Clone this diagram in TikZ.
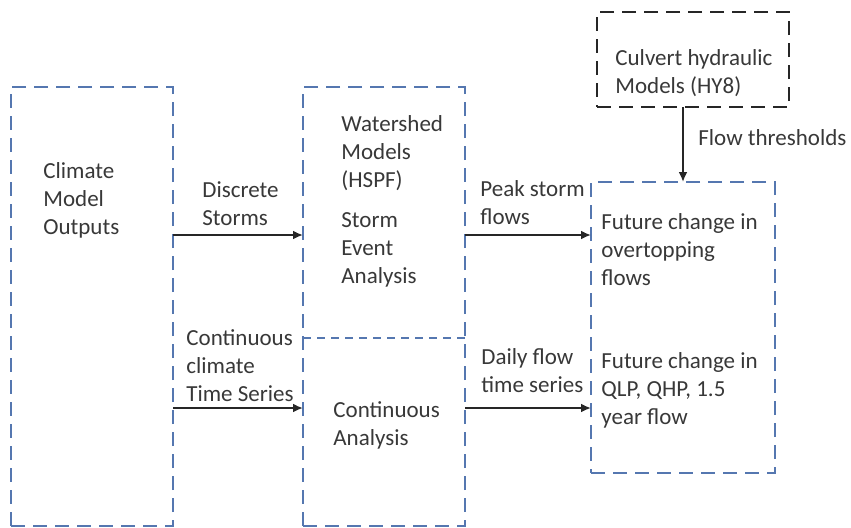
\documentclass[tikz,border=0pt]{standalone}
\usepackage{fontspec}
\setmainfont{Carlito}
\usepackage{xcolor}
\definecolor{cBlue}{HTML}{5577B0}
\definecolor{cInk}{HTML}{383838}
\definecolor{cDark}{HTML}{262626}
\usetikzlibrary{arrows.meta,calc}
\tikzset{
  box-blue/.style={draw=cBlue,line width=1pt,dash pattern=on 7pt off 4pt,
    inner sep=0pt,outer sep=0pt,anchor=north west},
  box-black/.style={draw=cDark,line width=1.3pt,dash pattern=on 7pt off 4pt,
    inner sep=0pt,outer sep=0pt,anchor=north west},
  divider/.style={draw=cBlue,line width=0.6pt,dash pattern=on 4pt off 3pt},
  txt/.style={align=left,anchor=west,inner sep=0pt,text=cInk,
    font=\fontsize{11.5}{14}\selectfont},
  arrow/.style={-{Latex[length=5pt,width=4.5pt]},line width=1pt,draw=cDark},
}

\begin{document}
\begin{tikzpicture}[x=0.5pt,y=-0.5pt]
  \useasboundingbox (0,0) rectangle (851,527);

  % boxes
  \node[box-blue,minimum width=81pt,minimum height=219.5pt] (clim) at (11,87) {};
  \node[box-blue,minimum width=81pt,minimum height=219.5pt] (shed) at (303,87) {};
  \node[box-blue,minimum width=92pt,minimum height=145.5pt] (fut) at (591,182) {};
  \node[box-black,minimum width=96pt,minimum height=47.5pt] (culv) at (597,12) {};

  % rows for the connectors
  \coordinate (row-storm) at (0,235);
  \coordinate (row-cont) at (0,408);
  \coordinate (split) at (0,338);
  \coordinate (thr) at (683,0);

  \draw[divider] (shed.west |- split) -- ([xshift=1pt]shed.east |- split);

  % texts inside the boxes
  \node[txt] (clim-t) at (43,200) {Climate\\Model\\Outputs};
  \node[txt] (shed-t) at (341,153) {Watershed\\Models\\(HSPF)};
  \node[txt] (event-t) at (341,250) {Storm\\Event\\Analysis};
  \node[txt] (cont-t) at (333,425) {Continuous\\Analysis};
  \node[txt] (over-t) at (601,250) {Future change in\\overtopping\\flows};
  \node[txt] (qlp-t) at (601,390) {Future change in\\QLP, QHP, 1.5\\year flow};
  \node[txt] (culv-t) at (615,73) {Culvert hydraulic\\Models (HY8)};

  % connectors
  \draw[arrow] (clim.east |- row-storm) -- (shed.west |- row-storm);
  \draw[arrow] (clim.east |- row-cont) -- (shed.west |- row-cont);
  \draw[arrow] (shed.east |- row-storm) -- (fut.west |- row-storm);
  \draw[arrow] (shed.east |- row-cont) -- (fut.west |- row-cont);
  \draw[arrow] (culv.south -| thr) -- (fut.north -| thr);

  % connector labels
  \node[txt] (storm-l) at (202,204) {Discrete\\Storms};
  \node[txt] (series-l) at (186,366) {Continuous\\climate\\Time Series};
  \node[txt] (peak-l) at (480,203) {Peak storm\\flows};
  \node[txt] (daily-l) at (481,371) {Daily flow\\time series};
  \node[txt] (thr-l) at (698,138) {Flow thresholds};
\end{tikzpicture}
\end{document}
